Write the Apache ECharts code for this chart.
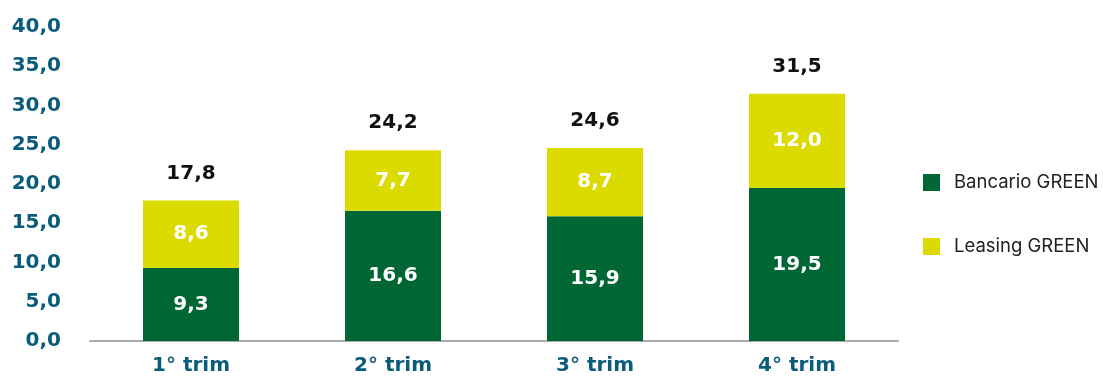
<!DOCTYPE html>
<html>
<head>
<meta charset="utf-8">
<script src="https://cdn.jsdelivr.net/npm/echarts@6/dist/echarts.min.js"></script>
<style>
  html, body { margin: 0; padding: 0; background: #ffffff; }
  #chart { width: 1103px; height: 376px; }
</style>
</head>
<body>
<div id="chart"></div>
<script>
// Quarterly GREEN volumes, stacked by product line
const categories = ['1° trim', '2° trim', '3° trim', '4° trim'];
const bancario = [9.3, 16.6, 15.9, 19.5];
const leasing = [8.6, 7.7, 8.7, 12.0];
const totals = [17.8, 24.2, 24.6, 31.5];
const yTicks = { min: 0, max: 40, interval: 5 };

const GREEN = '#006634';
const YELLOW = '#dcdb00';
const AXIS_BLUE = '#0b5b7b';
const FONT = '"DejaVu Sans", sans-serif';

const fmt = v => Number(v).toFixed(1).replace('.', ',');

const chart = echarts.init(document.getElementById('chart'), null, { renderer: 'canvas' });

chart.setOption({
  animation: false,
  backgroundColor: '#ffffff',
  grid: { left: 90, right: 205, top: 27, bottom: 35, containLabel: false },
  legend: {
    orient: 'vertical',
    left: 918,
    top: 168,
    itemWidth: 17,
    itemHeight: 17,
    itemGap: 45,
    icon: 'rect',
    data: ['Bancario GREEN', 'Leasing GREEN'],
    textStyle: { fontFamily: 'Inter, sans-serif', fontSize: 18.5, color: '#222222', padding: [0, 0, 0, 9] }
  },
  xAxis: {
    type: 'category',
    data: categories,
    axisLine: { show: true, lineStyle: { color: '#aaaaaa', width: 2 } },
    axisTick: { show: false },
    axisLabel: { color: AXIS_BLUE, fontFamily: FONT, fontWeight: 'bold', fontSize: 20, margin: 15 }
  },
  yAxis: {
    type: 'value',
    min: yTicks.min,
    max: yTicks.max,
    interval: yTicks.interval,
    splitLine: { show: false },
    axisLine: { show: false },
    axisTick: { show: false },
    axisLabel: {
      color: AXIS_BLUE, fontFamily: FONT, fontWeight: 'bold', fontSize: 20, margin: 29,
      formatter: v => fmt(v)
    }
  },
  series: [
    {
      name: 'Bancario GREEN',
      type: 'bar',
      stack: 'tot',
      barWidth: 96,
      data: bancario,
      itemStyle: { color: GREEN },
      label: {
        show: true, position: 'inside', color: '#ffffff',
        fontFamily: FONT, fontWeight: 'bold', fontSize: 20,
        formatter: p => fmt(p.value)
      }
    },
    {
      name: 'Leasing GREEN',
      type: 'bar',
      stack: 'tot',
      barWidth: 96,
      data: leasing,
      itemStyle: { color: YELLOW },
      label: {
        show: true, position: 'inside', color: '#ffffff',
        fontFamily: FONT, fontWeight: 'bold', fontSize: 20,
        formatter: p => fmt(p.value)
      }
    },
    {
      // zero-height cap that carries the total above each stack
      name: 'Totale',
      type: 'bar',
      stack: 'tot',
      barWidth: 96,
      data: totals.map(() => 0),
      itemStyle: { color: 'transparent' },
      label: {
        show: true, position: 'top', distance: 17, color: '#111111',
        fontFamily: FONT, fontWeight: 'bold', fontSize: 20,
        formatter: p => fmt(totals[p.dataIndex])
      }
    }
  ]
});
</script>
</body>
</html>
